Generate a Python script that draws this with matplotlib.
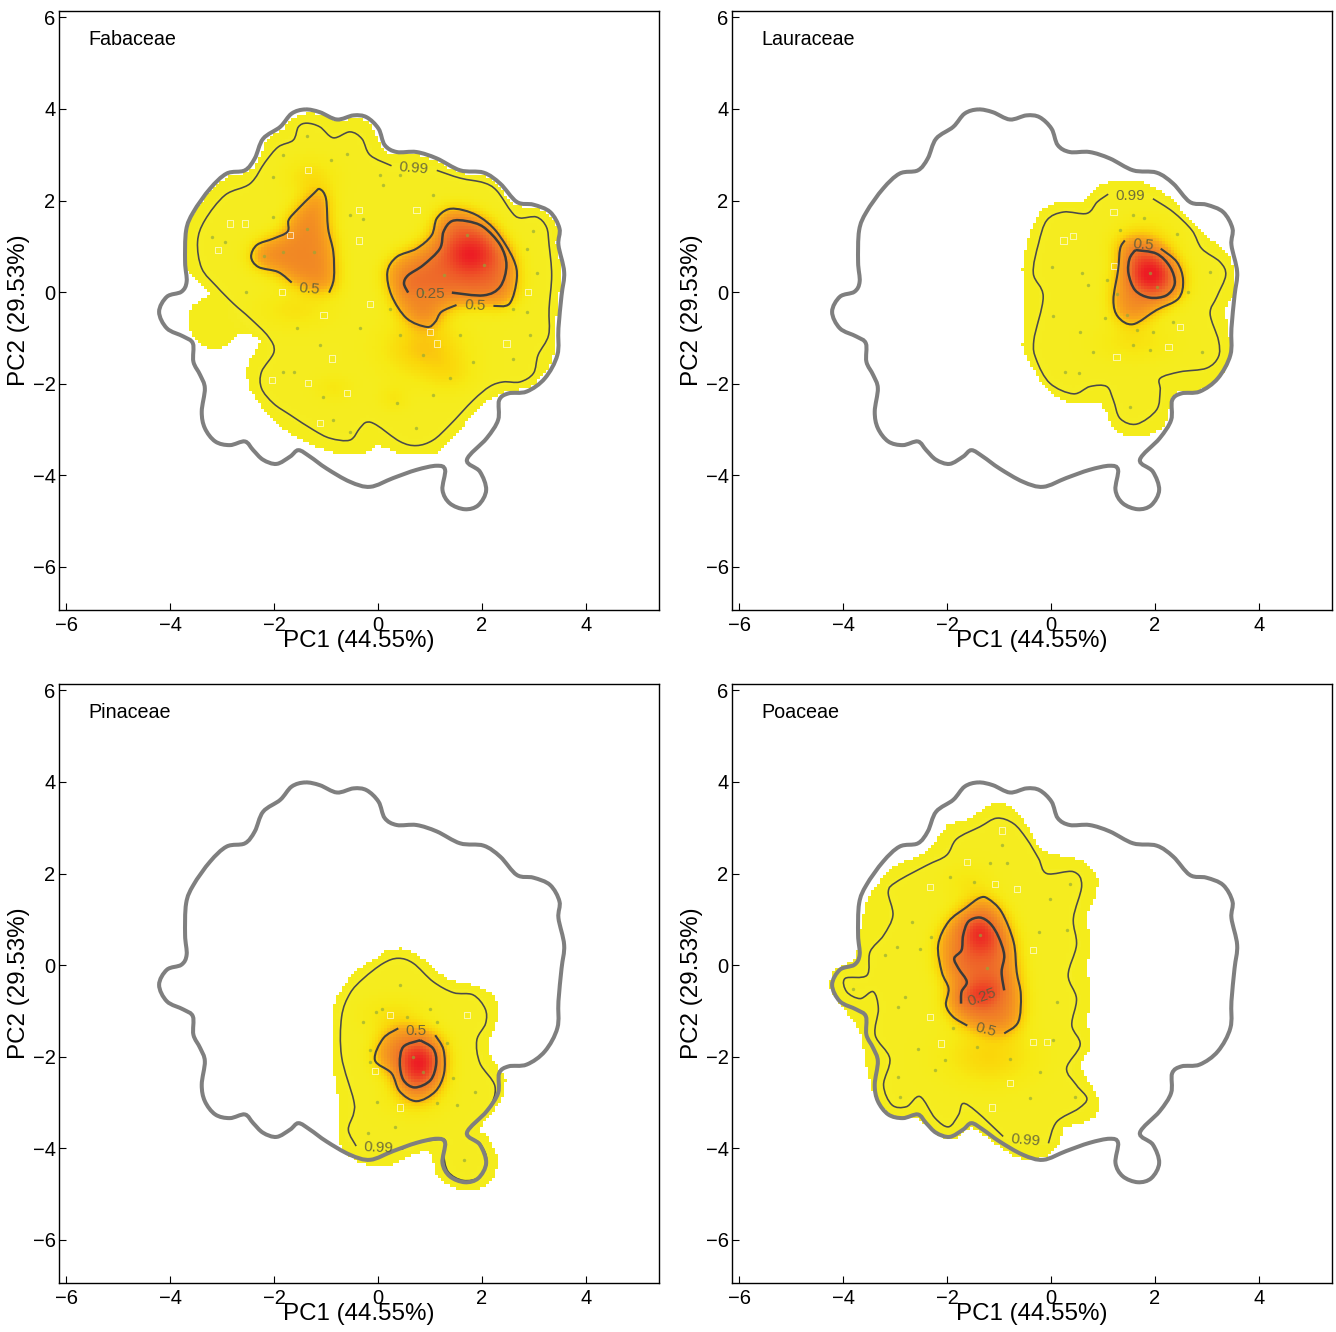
import matplotlib
matplotlib.use('Agg')
import matplotlib.pyplot as plt
import numpy as np
from matplotlib.colors import LinearSegmentedColormap
from matplotlib.path import Path
from matplotlib.patches import PathPatch

plt.rcParams['font.family'] = ['Liberation Sans', 'DejaVu Sans']

# grey outline shared by all panels
outline = [(-1.40,3.99),(-1.12,3.93),(-0.79,3.77),(-0.47,3.86),(-0.22,3.82),(0.01,3.57),(0.13,3.21),(0.36,3.06),
           (0.74,3.06),(1.13,2.92),(1.58,2.66),(2.03,2.61),(2.35,2.37),(2.67,1.97),(2.99,1.91),(3.31,1.75),
           (3.49,1.39),(3.47,1.03),(3.58,0.44),(3.53,-0.07),(3.47,-0.79),(3.45,-1.37),(3.21,-1.88),(2.86,-2.17),
           (2.51,-2.21),(2.33,-2.36),(2.31,-2.79),(2.09,-3.19),(1.71,-3.66),(1.96,-3.92),(2.08,-4.32),(1.93,-4.65),
           (1.67,-4.74),(1.38,-4.61),(1.24,-4.32),(1.29,-3.88),(1.13,-3.79),(0.74,-3.88),(0.29,-4.06),(-0.15,-4.25),
           (-0.54,-4.14),(-0.99,-3.85),(-1.31,-3.59),(-1.53,-3.45),(-1.69,-3.59),(-1.95,-3.75),(-2.21,-3.66),
           (-2.40,-3.45),(-2.56,-3.26),(-2.85,-3.34),(-3.13,-3.26),(-3.33,-2.97),(-3.39,-2.61),(-3.33,-2.10),
           (-3.42,-1.81),(-3.55,-1.52),(-3.56,-1.12),(-3.74,-0.97),(-4.06,-0.79),(-4.21,-0.43),(-4.06,-0.10),
           (-3.78,0.01),(-3.68,0.23),(-3.71,0.66),(-3.69,1.35),(-3.55,1.75),(-3.23,2.26),(-2.91,2.59),(-2.56,2.66),
           (-2.37,2.92),(-2.21,3.35),(-1.88,3.61),(-1.66,3.90)]

# Fabaceae
fab_bound = [(-1.37,3.90),(-1.05,3.85),(-0.79,3.71),(-0.47,3.79),(-0.25,3.73),(-0.06,3.50),(0.07,3.13),(0.33,2.99),
             (0.74,2.99),(1.13,2.84),(1.58,2.59),(2.03,2.52),(2.31,2.30),(2.63,1.90),(2.99,1.84),(3.28,1.68),
             (3.44,1.39),(3.42,1.03),(3.53,0.44),(3.47,-0.07),(3.40,-0.79),(3.38,-1.37),(3.15,-1.85),(2.86,-2.10),
             (2.51,-2.16),(2.28,-2.28),(2.03,-2.43),(1.71,-2.83),(1.38,-3.23),(1.13,-3.52),(0.74,-3.56),(0.33,-3.52),
             (-0.03,-3.34),(-0.22,-3.52),(-0.60,-3.56),(-0.99,-3.48),(-1.44,-3.26),(-1.95,-2.90),(-2.33,-2.39),
             (-2.53,-1.88),(-2.46,-1.45),(-2.30,-1.19),(-2.33,-1.01),(-2.65,-0.90),(-2.91,-1.16),(-3.17,-1.24),
             (-3.46,-1.12),(-3.65,-0.72),(-3.58,-0.32),(-3.29,-0.10),(-3.26,0.01),(-3.58,0.33),(-3.71,0.66),
             (-3.69,1.35),(-3.55,1.72),(-3.23,2.19),(-2.88,2.52),(-2.53,2.59),(-2.30,2.88),(-2.14,3.32),(-1.85,3.53),
             (-1.63,3.79)]
fab_99 = [(1.13,2.66),(1.58,2.49),(2.03,2.39),(2.28,2.22),(2.57,1.75),(2.73,1.62),(3.05,1.64),(3.24,1.42),(3.29,1.03),
          (3.34,0.37),(3.29,-0.36),(3.28,-0.94),(3.08,-1.37),(2.99,-1.77),(2.73,-1.96),(2.41,-1.96),(2.15,-2.06),
          (1.83,-2.36),(1.38,-2.90),(1.06,-3.23),(0.74,-3.35),(0.42,-3.26),(-0.03,-2.90),(-0.22,-2.84),(-0.35,-2.97),
          (-0.54,-3.23),(-0.92,-3.19),(-1.24,-3.01),(-1.69,-2.68),(-2.01,-2.43),(-2.24,-2.10),(-2.24,-1.74),
          (-2.00,-1.30),(-2.11,-0.97),(-2.46,-0.57),(-2.78,-0.25),(-3.10,0.12),(-3.39,0.52),(-3.47,1.10),(-3.33,1.57),
          (-2.94,2.12),(-2.46,2.37),(-2.17,2.84),(-1.92,3.17),(-1.63,3.32),(-1.53,3.61),(-1.37,3.69),(-1.12,3.61),
          (-0.86,3.37),(-0.54,3.50),(-0.31,3.35),(-0.15,2.99),(0.26,2.76)]
fab_50a = [(-0.94,-0.01),(-0.85,0.30),(-0.86,0.88),(-0.96,1.39),(-1.00,2.04),(-1.12,2.25),(-1.24,2.15),(-1.56,1.79),
           (-1.72,1.57),(-1.74,1.32),(-2.01,1.17),(-2.33,1.03),(-2.44,0.77),(-2.30,0.55),(-1.92,0.44),(-1.66,0.21)]
fab_50b = [(2.22,-0.30),(2.53,-0.25),(2.67,0.30),(2.60,0.73),(2.28,1.32),(1.96,1.64),(1.64,1.79),(1.35,1.81),(1.13,1.61),
           (1.03,1.24),(0.74,0.95),(0.36,0.77),(0.18,0.44),(0.26,-0.07),(0.55,-0.57),(0.94,-0.76),(1.10,-0.65),
           (1.22,-0.43),(1.51,-0.28)]
fab_25 = [(1.42,-0.01),(2.03,-0.07),(2.35,0.12),(2.47,0.59),(2.35,1.03),(2.03,1.42),(1.71,1.55),(1.42,1.55),(1.26,1.32),
          (1.19,0.95),(0.87,0.59),(0.58,0.37),(0.50,0.19),(0.58,-0.01)]
fab_spots = [(1.77,0.81,0.3,0.3,0.3),(0.87,-1.23,0.55,0.45,0.2),(1.38,-1.81,0.35,0.3,0.08),(-0.86,-2.10,0.25,0.2,0.08),
             (0.29,-2.32,0.2,0.2,0.08),(-1.6,-0.4,0.5,0.3,0.1),(-1.3,2.5,0.35,0.3,0.12)]
fab_labels = [('0.99',0.68,2.71,-5),('0.5',-1.32,0.08,-5),('0.25',1.01,-0.03,0),('0.5',1.87,-0.30,-3)]
fab_dots = [(-2.01,2.51),(-1.82,2.99),(-1.37,3.42),(-0.60,3.02),(-0.90,2.88),(0.04,2.55),(0.42,2.55),(1.06,2.12),(2.99,1.33),
            (2.86,0.95),(3.05,0.41),(2.86,-0.43),(2.93,-0.94),(2.60,-1.45),(1.83,-1.52),(1.38,-1.88),(1.06,-2.25),
            (0.36,-2.43),(0.74,-2.97),(-0.54,-3.05),(-0.86,-2.79),(-1.05,-2.28),(-1.62,-1.74),(-1.82,-1.74),(-1.12,-1.16),
            (-0.35,-0.79),(-1.56,-0.79),(-2.53,0.0),(-3.2,1.2),(-2.94,1.1),(-2.01,1.64),(-1.37,1.39),(-1.24,0.88),
            (-1.82,0.88),(-2.2,0.8),(-0.54,1.68),(-0.28,1.6),(0.1,2.33),(0.23,-0.36),(0.42,-0.94),(0.87,-1.37),
            (1.58,-0.94),(2.03,0.59),(1.71,1.24),(1.26,0.37),(0.87,0.0),(2.6,-0.36)]
fab_squares = [(-2.85,1.50),(-2.56,1.50),(-3.07,0.92),(-0.37,1.79),(-0.37,1.13),(0.74,1.79),(-1.69,1.24),(-1.34,2.66),
               (-1.85,0.01),(-1.05,-0.50),(-1.34,-1.99),(-1.12,-2.86),(1.13,-1.12),(2.47,-1.12),(2.89,0.01),(1.0,-0.87),
               (-0.60,-2.21),(-0.89,-1.45),(-2.04,-1.92),(-0.15,-0.25)]

# Lauraceae
lau_bound = [(1.13,2.41),(1.52,2.44),(1.90,2.33),(2.29,2.04),(2.67,1.57),(2.99,1.21),(3.31,0.92),(3.52,0.48),(3.49,-0.10),
             (3.35,-0.39),(3.41,-0.90),(3.44,-1.41),(3.19,-1.92),(2.87,-2.14),(2.38,-2.21),(2.28,-2.50),(2.16,-2.94),
             (1.78,-3.16),(1.39,-3.12),(1.13,-2.86),(0.94,-2.43),(0.43,-2.46),(-0.08,-2.14),(-0.34,-1.70),(-0.56,-1.19),
             (-0.50,-0.25),(-0.56,0.48),(-0.47,1.06),(-0.28,1.64),(0.04,1.93),(0.56,1.93),(0.81,2.22)]
lau_99 = [(1.96,2.04),(2.35,1.75),(2.71,1.35),(2.90,0.95),(3.25,0.66),(3.36,0.37),(3.19,-0.10),(3.06,-0.47),(3.22,-1.05),
          (3.22,-1.41),(2.99,-1.66),(2.48,-1.74),(2.10,-1.88),(2.10,-2.14),(2.03,-2.57),(1.65,-2.88),(1.33,-2.76),
          (1.20,-2.36),(1.07,-2.06),(0.75,-2.06),(0.43,-2.22),(-0.02,-1.99),(-0.28,-1.48),(-0.33,-1.05),(-0.15,-0.10),
          (-0.34,0.41),(-0.24,1.06),(-0.08,1.57),(0.24,1.75),(0.69,1.72),(0.89,1.97),(1.10,2.14)]
lau_50 = [(2.11,0.95),(2.42,0.66),(2.54,0.26),(2.45,-0.14),(2.03,-0.39),(1.58,-0.70),(1.29,-0.54),(1.20,-0.17),(1.29,0.48),
          (1.33,0.95),(1.42,1.13)]
lau_25 = [(1.62,0.92),(2.03,0.84),(2.29,0.55),(2.38,0.19),(2.22,-0.07),(1.90,-0.12),(1.62,0.04),(1.49,0.41),(1.51,0.73),
          (1.62,0.92)]
lau_spots = [(1.90,0.37,0.25,0.25,0.32),(1.8,1.1,0.4,0.35,0.15),(1.6,-1.1,0.5,0.3,0.1)]
lau_labels = [('0.99',1.52,2.09,0),('0.5',1.78,1.03,-5)]
lau_dots = [(0.01,0.55),(0.59,0.42),(0.72,0.15),(1.07,0.26),(1.26,-0.03),(1.46,-0.50),(1.90,0.41),(2.03,0.12),(1.65,-0.83),
            (1.97,-0.87),(2.35,-0.65),(1.58,-1.16),(1.90,-1.26),(2.90,-1.30),(0.81,-1.30),(0.27,-1.74),(0.53,-1.77),
            (1.52,-2.50),(0.04,-0.52),(0.56,-0.87),(1.33,1.35),(1.58,1.68),(1.78,1.61),(2.42,1.28),(3.06,0.44),
            (2.64,0.01),(1.04,-0.57)]
lau_squares = [(1.20,1.75),(0.43,1.23),(1.21,0.57),(2.48,-0.76),(2.26,-1.19),(1.26,-1.41),(0.24,1.13)]

# Pinaceae
pin_bound = [(0.23,0.34),(0.62,0.29),(0.94,0.04),(1.35,-0.33),(1.83,-0.44),(2.22,-0.69),(2.31,-1.13),(2.15,-1.56),(2.12,-1.93),
             (2.38,-2.36),(2.44,-2.65),(2.28,-3.09),(1.96,-3.56),(2.09,-3.74),(2.28,-4.18),(2.22,-4.62),(1.90,-4.91),
             (1.45,-4.87),(1.10,-4.54),(1.00,-4.11),(0.68,-4.14),(0.17,-4.40),(-0.35,-4.33),(-0.73,-3.96),(-0.76,-3.53),
             (-0.76,-3.02),(-0.86,-2.36),(-0.89,-1.85),(-0.89,-1.13),(-0.79,-0.69),(-0.47,-0.18),(-0.09,0.11)]
pin_99 = [(-0.42,-3.95),(-0.57,-3.60),(-0.47,-3.24),(-0.47,-2.94),(-0.70,-2.00),(-0.70,-1.13),(-0.54,-0.62),(-0.28,-0.29),
          (0.10,0.04),(0.39,0.15),(0.68,0.04),(1.06,-0.36),(1.45,-0.60),(1.83,-0.65),(2.06,-0.95),(2.07,-1.27),
          (1.90,-1.64),(1.96,-2.14),(2.25,-2.65),(2.12,-3.16),(1.71,-3.67),(1.96,-3.89),(2.09,-4.25),(1.96,-4.62),
          (1.64,-4.70),(1.35,-4.51),(1.26,-4.11),(1.29,-3.82),(1.06,-3.82),(0.68,-3.89),(0.46,-4.02)]
pin_50 = [(1.10,-1.53),(1.26,-1.85),(1.27,-2.36),(1.10,-2.76),(0.74,-2.97),(0.42,-2.76),(0.26,-2.36),(-0.06,-2.07),(0.10,-1.60),
          (0.39,-1.38)]
pin_25 = [(0.81,-1.64),(1.06,-1.82),(1.12,-2.14),(1.01,-2.51),(0.71,-2.67),(0.49,-2.51),(0.42,-2.14),(0.49,-1.78),(0.81,-1.64)]
pin_spots = [(0.78,-2.14,0.25,0.28,0.3),(0.7,-2.9,0.45,0.35,0.08),(0.3,-1.1,0.45,0.3,0.1)]
pin_labels = [('0.5',0.73,-1.43,0),('0.99',0.01,-3.98,-3)]
pin_dots = [(-0.28,-1.24),(0.07,-0.95),(-0.03,-1.02),(0.55,-1.13),(1.0,-0.95),(1.13,-1.24),(0.42,-0.44),(-0.15,-1.85),(-0.15,-2.11),
            (0.68,-2.0),(0.87,-2.33),(1.45,-2.47),(1.87,-2.76),(1.51,-3.05),(-0.01,-2.98),(0.33,-3.54),(-0.19,-3.66),
            (1.65,-4.25),(1.13,-3.02),(1.32,-1.71)]
pin_squares = [(1.71,-1.09),(0.42,-3.11),(-0.06,-2.31),(0.23,-1.09)]

# Poaceae
poa_bound = [(-0.98,3.53),(-0.60,3.27),(-0.34,2.76),(-0.08,2.44),(0.43,2.33),(0.81,2.07),(0.88,1.60),(0.69,1.09),(0.75,0.51),
             (0.69,-0.07),(0.75,-0.65),(0.69,-1.24),(0.75,-1.82),(0.56,-2.18),(0.75,-2.62),(0.94,-3.13),(0.62,-3.45),
             (0.24,-3.56),(0.11,-4.00),(-0.28,-4.25),(-0.72,-4.18),(-1.24,-3.78),(-1.56,-3.56),(-1.88,-3.82),(-2.26,-3.67),
             (-2.58,-3.34),(-2.97,-3.34),(-3.35,-2.98),(-3.54,-2.33),(-3.67,-1.53),(-3.93,-1.05),(-4.19,-0.65),(-4.26,-0.36),
             (-4.12,-0.07),(-3.80,0.11),(-3.71,0.51),(-3.61,1.16),(-3.45,1.60),(-3.06,2.11),(-2.65,2.33),(-2.26,2.62),
             (-2.01,3.05),(-1.62,3.16),(-1.30,3.42)]
poa_99 = [(-0.05,-3.89),(0.11,-3.42),(0.53,-3.13),(0.69,-2.91),(0.49,-2.62),(0.30,-2.25),(0.56,-1.74),(0.40,-1.31),(0.49,-0.73),
          (0.33,-0.22),(0.49,0.44),(0.43,1.02),(0.59,1.74),(0.43,2.04),(-0.08,2.00),(-0.24,2.33),(-0.47,2.76),(-0.72,3.09),
          (-1.04,3.21),(-1.37,3.02),(-1.81,2.76),(-2.01,2.40),(-2.39,2.18),(-2.97,1.82),(-3.13,1.60),(-3.04,1.09),
          (-3.22,0.65),(-3.48,0.29),(-3.54,-0.22),(-3.96,-0.29),(-3.93,-0.58),(-3.67,-0.73),(-3.42,-0.58),(-3.32,-0.95),
          (-3.38,-1.53),(-3.10,-2.04),(-3.22,-2.62),(-3.06,-3.05),(-2.78,-3.09),(-2.52,-2.87),(-2.23,-3.34),(-1.97,-3.53),
          (-1.78,-3.27),(-1.69,-3.02),(-1.43,-3.20),(-0.92,-3.74)]
poa_50 = [(-0.90,-1.49),(-0.63,-1.24),(-0.58,-0.65),(-0.66,-0.15),(-0.72,0.51),(-0.95,1.16),(-1.21,1.45),(-1.37,1.47),(-1.62,1.27),
          (-1.97,0.95),(-2.17,0.44),(-2.10,-0.15),(-1.97,-0.51),(-2.02,-0.87),(-1.88,-1.13),(-1.61,-1.32)]
poa_25 = [(-0.90,-0.55),(-0.95,-0.15),(-0.90,0.22),(-1.01,0.62),(-1.17,0.91),(-1.37,1.04),(-1.59,0.95),(-1.69,0.65),(-1.72,0.33),
          (-1.86,0.15),(-1.78,-0.07),(-1.62,-0.36),(-1.72,-0.58),(-1.73,-0.84)]
poa_spots = [(-1.37,0.65,0.25,0.3,0.25),(-1.30,-0.73,0.28,0.25,0.25),(-1.2,-2.0,0.6,0.45,0.16),(-1.6,1.8,0.35,0.3,0.08)]
poa_labels = [('0.25',-1.32,-0.69,20),('0.5',-1.26,-1.42,-15),('0.99',-0.49,-3.82,-5)]
poa_dots = [(-0.95,2.62),(-1.17,2.22),(-0.85,2.22),(-1.94,1.93),(-1.49,1.82),(-0.02,1.45),(-0.24,0.73),(0.37,1.78),(0.30,0.76),
            (-2.68,0.95),(-2.96,0.40),(-3.19,0.22),(-2.81,-0.69),(-2.95,-0.91),(-2.52,0.36),(-2.30,0.62),(-1.37,0.65),
            (-1.24,-0.07),(-1.88,-1.38),(-1.43,-1.78),(-0.79,-2.04),(-0.21,-2.33),(0.11,-0.80),(0.04,-1.64),(-2.55,-1.82),
            (-2.04,-2.07),(-2.23,-2.29),(-2.94,-2.44),(-2.91,-2.87),(-0.40,-2.91),(-3.80,-0.51),(0.46,-2.87)]
poa_squares = [(-2.33,1.71),(-1.08,1.78),(-0.34,0.33),(-2.33,-1.13),(-2.12,-1.71),(-0.34,-1.67),(-0.79,-2.58),(-1.62,2.25),
               (-0.95,2.94),(-0.08,-1.67),(-1.14,-3.11),(-0.66,1.67)]

panels = [
    ('Fabaceae', fab_bound, fab_99, [fab_50a, fab_50b], [fab_25], fab_spots, fab_labels, fab_dots, fab_squares),
    ('Lauraceae', lau_bound, lau_99, [lau_50], [lau_25], lau_spots, lau_labels, lau_dots, lau_squares),
    ('Pinaceae', pin_bound, pin_99, [pin_50], [pin_25], pin_spots, pin_labels, pin_dots, pin_squares),
    ('Poaceae', poa_bound, poa_99, [poa_50], [poa_25], poa_spots, poa_labels, poa_dots, poa_squares),
]

W, H = 1336, 1332
boxes = [(59, 10.5), (732, 10.5), (59, 683.5), (732, 683.5)]
xlim = (-6.135, 5.404)
ylim = (-6.94, 6.15)

heat = LinearSegmentedColormap.from_list('heat', [
    (0.0, '#F3E90C'), (0.03, '#F5EE24'), (0.12, '#F7EA14'), (0.22, '#FBD60A'), (0.33, '#F9A81A'),
    (0.5, '#F28A24'), (0.68, '#EF6F2A'), (0.85, '#EE4326'), (1.0, '#ED1C24')])

# grid of the density image, about 3 px per cell
gx = np.arange(-5, 4.5, 3 / 52)
gy = np.arange(-6, 5, 3 / 45.8)
xx, yy = np.meshgrid(gx, gy)
cells = np.column_stack([xx.ravel(), yy.ravel()])
dx = gx[1] - gx[0]
dy = gy[1] - gy[0]


def smooth(pts, closed=False):
    # catmull-rom through the read points, as bezier segments
    p = np.array(pts, dtype=float)
    n = len(p)
    verts = [p[0]]
    codes = [Path.MOVETO]
    for i in range(n if closed else n - 1):
        if closed:
            p0, p1, p2, p3 = p[(i - 1) % n], p[i], p[(i + 1) % n], p[(i + 2) % n]
        else:
            p0, p1, p2, p3 = p[max(i - 1, 0)], p[i], p[i + 1], p[min(i + 2, n - 1)]
        verts += [p1 + (p2 - p0) / 6, p2 - (p3 - p1) / 6, p2]
        codes += [Path.CURVE4] * 3
    return Path(np.array(verts), codes)


def inside(pts):
    return smooth(pts, True).contains_points(cells).reshape(xx.shape).astype(float)


def blur(m, sigma):
    for axis, step in ((0, dy), (1, dx)):
        s = sigma / step
        t = np.arange(-int(3 * s) - 1, int(3 * s) + 2)
        k = np.exp(-0.5 * (t / s) ** 2)
        k /= k.sum()
        m = np.apply_along_axis(lambda r: np.convolve(r, k, mode='same'), axis, m)
    return m


fig = plt.figure(figsize=(W / 100, H / 100), dpi=100)

for box, panel in zip(boxes, panels):
    name, bound, c99, c50, c25, spots, labels, dots, squares = panel
    ax = fig.add_axes([box[0] / W, 1 - (box[1] + 599.5) / H, 600 / W, 599.5 / H])

    field = 0.035 * blur(inside(c99), 0.06) + 0.02
    for c in c50:
        field += 0.46 * blur(inside(c), 0.2)
    for c in c25:
        field += 0.18 * blur(inside(c), 0.14)
    for sx, sy, wx, wy, amp in spots:
        field += amp * np.exp(-0.5 * (((xx - sx) / wx) ** 2 + ((yy - sy) / wy) ** 2))
    mask = inside(bound) < 0.5
    ax.imshow(np.ma.masked_where(mask, np.clip(field, 0, 1)), origin='lower', cmap=heat, vmin=0, vmax=1,
              interpolation='nearest', aspect='auto',
              extent=(gx[0] - dx / 2, gx[-1] + dx / 2, gy[0] - dy / 2, gy[-1] + dy / 2), zorder=1)

    sq = np.array(squares)
    ax.scatter(sq[:, 0], sq[:, 1], marker='s', s=20, facecolors='none', edgecolors='white', linewidths=0.6,
               alpha=0.75, zorder=2)
    d = np.array(dots)
    ax.scatter(d[:, 0], d[:, 1], s=6, color='#8FA83A', alpha=0.65, linewidths=0, zorder=2)

    ax.add_patch(PathPatch(smooth(c99), fill=False, edgecolor='#4A4A4A', lw=1.15, zorder=3))
    for c in c50:
        ax.add_patch(PathPatch(smooth(c), fill=False, edgecolor='#404040', lw=1.5, zorder=3))
    for c in c25:
        ax.add_patch(PathPatch(smooth(c), fill=False, edgecolor='#3A3A3A', lw=1.8, zorder=3))
    ax.add_patch(PathPatch(smooth(outline, True), fill=False, edgecolor='#7F7F7F', lw=2.9, zorder=3))

    for txt, x, y, rot in labels:
        ax.text(x, y, txt, fontsize=11, color='#5A5A3C', alpha=0.85, rotation=rot, ha='center', va='center', zorder=4)

    ax.text(0.049, 0.952, name, transform=ax.transAxes, fontsize=14.2, ha='left', va='center')

    ax.set_xlim(xlim)
    ax.set_ylim(ylim)
    ax.set_xticks(np.arange(-6, 5, 2))
    ax.set_yticks(np.arange(-6, 7, 2))
    ax.tick_params(direction='in', length=5, width=0.8, labelsize=14.5, pad=2.5)
    ax.tick_params(axis='x', pad=4)
    ax.set_xlabel('PC1 (44.55%)', fontsize=17.4, labelpad=-3)
    ax.set_ylabel('PC2 (29.53%)', fontsize=17.4, labelpad=2)
    for s in ax.spines.values():
        s.set_linewidth(1.0)

fig.savefig('out.png', dpi=100)
